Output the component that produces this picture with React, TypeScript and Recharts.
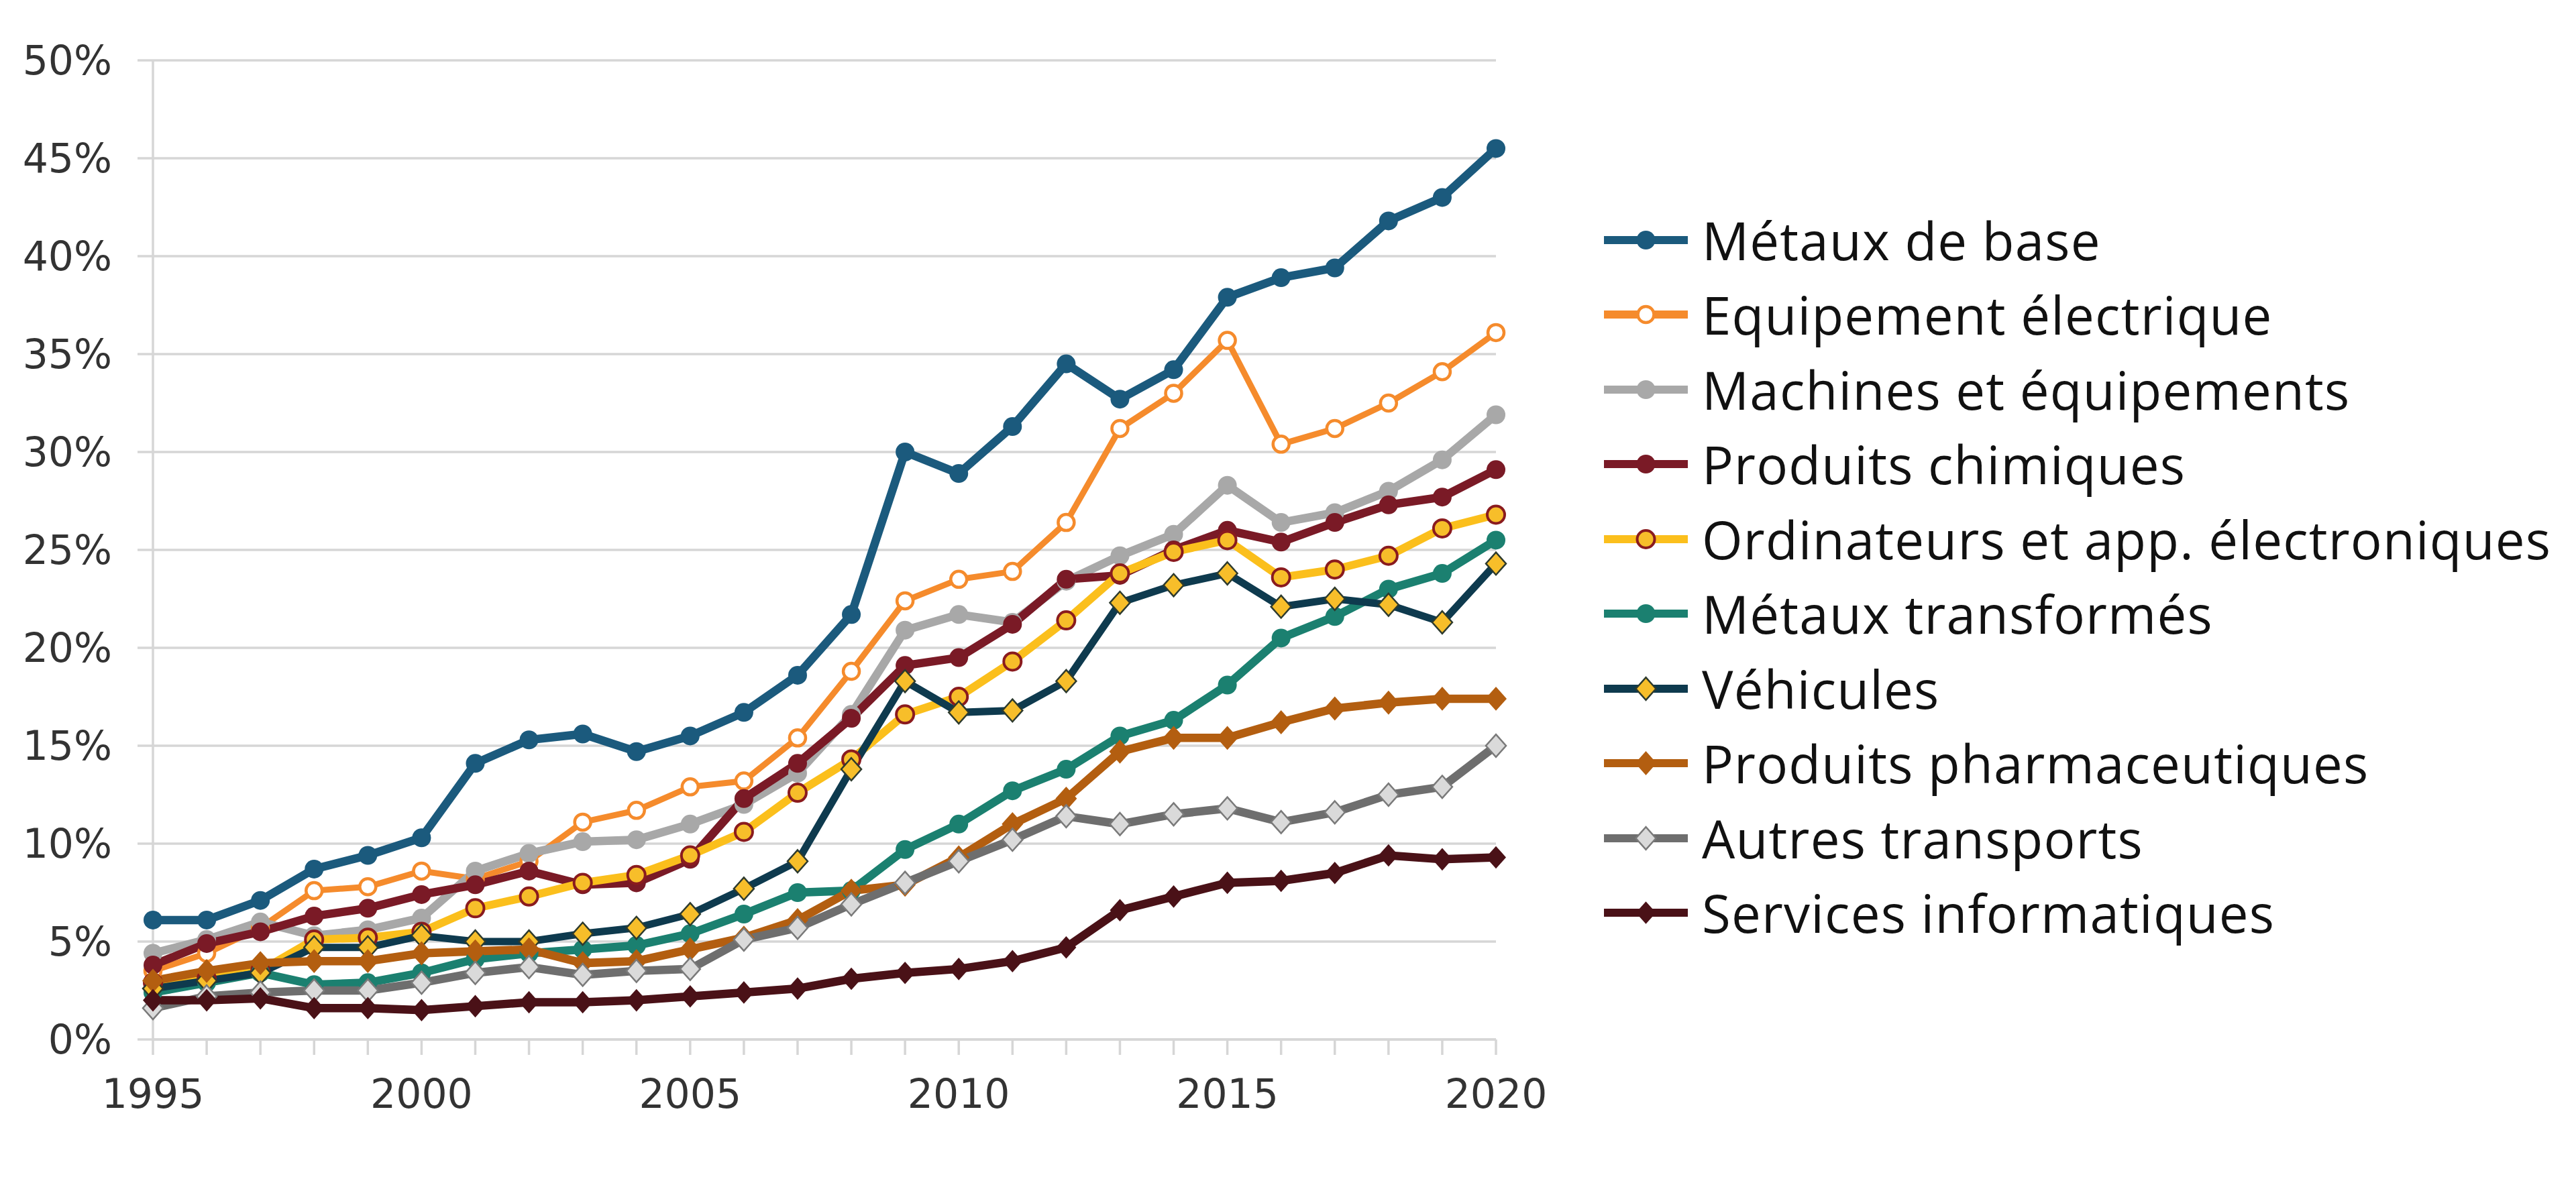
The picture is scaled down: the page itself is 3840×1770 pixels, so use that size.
import React from 'react';
import { LineChart, Line, XAxis, YAxis, CartesianGrid, Legend } from 'recharts';

const years = [1995, 1996, 1997, 1998, 1999, 2000, 2001, 2002, 2003, 2004, 2005, 2006, 2007, 2008, 2009, 2010, 2011, 2012, 2013, 2014, 2015, 2016, 2017, 2018, 2019, 2020];

const metauxBase = [6.1, 6.1, 7.1, 8.7, 9.4, 10.3, 14.1, 15.3, 15.6, 14.7, 15.5, 16.7, 18.6, 21.7, 30.0, 28.9, 31.3, 34.5, 32.7, 34.2, 37.9, 38.9, 39.4, 41.8, 43.0, 45.5];
const equipElec = [3.5, 4.4, 5.7, 7.6, 7.8, 8.6, 8.2, 9.1, 11.1, 11.7, 12.9, 13.2, 15.4, 18.8, 22.4, 23.5, 23.9, 26.4, 31.2, 33.0, 35.7, 30.4, 31.2, 32.5, 34.1, 36.1];
const machines = [4.4, 5.1, 6.0, 5.3, 5.6, 6.2, 8.6, 9.5, 10.1, 10.2, 11.0, 12.0, 13.6, 16.6, 20.9, 21.7, 21.3, 23.4, 24.7, 25.8, 28.3, 26.4, 26.9, 28.0, 29.6, 31.9];
const chimiques = [3.8, 4.9, 5.5, 6.3, 6.7, 7.4, 7.9, 8.6, 7.9, 8.0, 9.2, 12.3, 14.1, 16.4, 19.1, 19.5, 21.2, 23.5, 23.7, 25.0, 26.0, 25.4, 26.4, 27.3, 27.7, 29.1];
const ordinateurs = [2.9, 3.1, 3.5, 5.1, 5.2, 5.5, 6.7, 7.3, 8.0, 8.4, 9.4, 10.6, 12.6, 14.3, 16.6, 17.5, 19.3, 21.4, 23.8, 24.9, 25.5, 23.6, 24.0, 24.7, 26.1, 26.8];
const metauxTransf = [2.4, 2.9, 3.4, 2.8, 2.9, 3.4, 4.1, 4.4, 4.6, 4.8, 5.4, 6.4, 7.5, 7.6, 9.7, 11.0, 12.7, 13.8, 15.5, 16.3, 18.1, 20.5, 21.6, 23.0, 23.8, 25.5];
const vehicules = [2.6, 3.0, 3.4, 4.7, 4.7, 5.3, 5.0, 5.0, 5.4, 5.7, 6.4, 7.7, 9.1, 13.8, 18.3, 16.7, 16.8, 18.3, 22.3, 23.2, 23.8, 22.1, 22.5, 22.2, 21.3, 24.3];
const pharma = [3.0, 3.5, 3.9, 4.0, 4.0, 4.4, 4.5, 4.6, 3.9, 4.0, 4.6, 5.2, 6.1, 7.6, 7.9, 9.3, 11.0, 12.3, 14.7, 15.4, 15.4, 16.2, 16.9, 17.2, 17.4, 17.4];
const autresTransports = [1.6, 2.2, 2.4, 2.5, 2.5, 2.9, 3.4, 3.7, 3.3, 3.5, 3.6, 5.1, 5.7, 6.9, 8.0, 9.1, 10.2, 11.4, 11.0, 11.5, 11.8, 11.1, 11.6, 12.5, 12.9, 15.0];
const servicesInfo = [2.0, 2.0, 2.1, 1.6, 1.6, 1.5, 1.7, 1.9, 1.9, 2.0, 2.2, 2.4, 2.6, 3.1, 3.4, 3.6, 4.0, 4.7, 6.6, 7.3, 8.0, 8.1, 8.5, 9.4, 9.2, 9.3];

const yTicks = [0, 5, 10, 15, 20, 25, 30, 35, 40, 45, 50];

type Marker = 'circle' | 'diamond';
interface Series {
  key: string;
  name: string;
  values: number[];
  color: string;
  width: number;
  marker: Marker;
  fill: string;
  mStroke: string;
  mStrokeW: number;
  size: number;
}

const series: Series[] = [
  { key: 'metauxBase', name: 'Métaux de base', values: metauxBase, color: '#1B5A7D', width: 12.5, marker: 'circle', fill: '#1B5A7D', mStroke: '#1B5A7D', mStrokeW: 0, size: 14 },
  { key: 'equipElec', name: 'Equipement électrique', values: equipElec, color: '#F58B2C', width: 9, marker: 'circle', fill: '#FFFFFF', mStroke: '#F58B2C', mStrokeW: 4.5, size: 12 },
  { key: 'machines', name: 'Machines et équipements', values: machines, color: '#A8A8A8', width: 12.5, marker: 'circle', fill: '#A8A8A8', mStroke: '#A8A8A8', mStrokeW: 0, size: 14 },
  { key: 'chimiques', name: 'Produits chimiques', values: chimiques, color: '#7A1A26', width: 12.5, marker: 'circle', fill: '#7A1A26', mStroke: '#7A1A26', mStrokeW: 0, size: 14 },
  { key: 'ordinateurs', name: 'Ordinateurs et app. électroniques', values: ordinateurs, color: '#FBBF1C', width: 12, marker: 'circle', fill: '#F7BE2A', mStroke: '#8A1B1E', mStrokeW: 4, size: 13 },
  { key: 'metauxTransf', name: 'Métaux transformés', values: metauxTransf, color: '#1B8070', width: 12.5, marker: 'circle', fill: '#1B8070', mStroke: '#1B8070', mStrokeW: 0, size: 14 },
  { key: 'vehicules', name: 'Véhicules', values: vehicules, color: '#0E3A4E', width: 11, marker: 'diamond', fill: '#F7BE2A', mStroke: '#2E3B2E', mStrokeW: 2.5, size: 15 },
  { key: 'pharma', name: 'Produits pharmaceutiques', values: pharma, color: '#B35E10', width: 12.5, marker: 'diamond', fill: '#B35E10', mStroke: '#B35E10', mStrokeW: 0, size: 16 },
  { key: 'autresTransports', name: 'Autres transports', values: autresTransports, color: '#6E6E6E', width: 12.5, marker: 'diamond', fill: '#DADADA', mStroke: '#7A7A7A', mStrokeW: 2.5, size: 15 },
  { key: 'servicesInfo', name: 'Services informatiques', values: servicesInfo, color: '#4A1117', width: 12.5, marker: 'diamond', fill: '#4A1117', mStroke: '#4A1117', mStrokeW: 0, size: 15 },
];

const data = years.map((year, i) => {
  const row: Record<string, number> = { year };
  series.forEach((s) => {
    row[s.key] = s.values[i];
  });
  return row;
});

function MarkerShape({ cx, cy, s }: { cx: number; cy: number; s: Series }) {
  if (cx == null || cy == null) return null;
  if (s.marker === 'circle') {
    return <circle cx={cx} cy={cy} r={s.size} fill={s.fill} stroke={s.mStroke} strokeWidth={s.mStrokeW} />;
  }
  const w = s.size;
  const h = s.size * 1.12;
  return (
    <path
      d={`M${cx},${cy - h}L${cx + w},${cy}L${cx},${cy + h}L${cx - w},${cy}Z`}
      fill={s.fill}
      stroke={s.mStroke}
      strokeWidth={s.mStrokeW}
    />
  );
}

const renderLegend = (props: any) => {
  const items: any[] = props.payload || [];
  const present = new Set(items.map((it) => it.value));
  return (
    <div style={{ fontFamily: '"Open Sans", sans-serif', fontSize: 78, color: '#111', letterSpacing: 1.2 }}>
      {series
        .filter((s) => present.size === 0 || present.has(s.name))
        .map((s) => (
          <div key={s.key} style={{ display: 'flex', alignItems: 'center', height: 111.5 }}>
            <svg width={125} height={44} style={{ flex: 'none', overflow: 'visible' }}>
              <line x1={0} y1={22} x2={125} y2={22} stroke={s.color} strokeWidth={12} />
              <MarkerShape cx={62.5} cy={22} s={s} />
            </svg>
            <span style={{ marginLeft: 21, whiteSpace: 'nowrap', lineHeight: 1 }}>{s.name}</span>
          </div>
        ))}
    </div>
  );
};

const tickStyle = { fontFamily: '"DejaVu Sans", sans-serif', fontSize: 60, fill: '#333333' };

export default function App() {
  return (
    <div style={{ position: 'absolute', left: 0, top: 0, width: 3840, height: 1770, background: '#ffffff' }}>
      <LineChart width={3840} height={1770} data={data} margin={{ top: 90, right: 1610, left: 5, bottom: 100 }}>
        <CartesianGrid horizontal={true} vertical={false} stroke="#D6D6D6" strokeWidth={3.5} />
        <XAxis
          dataKey="year"
          type="number"
          domain={[1995, 2020]}
          ticks={years}
          interval={0}
          height={120}
          tickFormatter={(v: number) => (v % 5 === 0 ? String(v) : '')}
          axisLine={{ stroke: '#D6D6D6', strokeWidth: 3.5 }}
          tickLine={{ stroke: '#D6D6D6', strokeWidth: 3.5 }}
          tickSize={23}
          tickMargin={36}
          tick={tickStyle}
        />
        <YAxis
          type="number"
          domain={[0, 50]}
          ticks={yTicks}
          interval={0}
          width={223}
          tickFormatter={(v: number) => `${v}%`}
          axisLine={{ stroke: '#D6D6D6', strokeWidth: 3.5 }}
          tickLine={{ stroke: '#D6D6D6', strokeWidth: 3.5 }}
          tickSize={23}
          tickMargin={38}
          tick={tickStyle}
        />
        {series.map((s) => (
          <Line
            key={s.key}
            type="linear"
            dataKey={s.key}
            name={s.name}
            stroke={s.color}
            strokeWidth={s.width}
            isAnimationActive={false}
            dot={(p: any) => <MarkerShape key={`${s.key}-${p.index}`} cx={p.cx} cy={p.cy} s={s} />}
            activeDot={false}
          />
        ))}
        <Legend
          layout="vertical"
          align="center"
          verticalAlign="middle"
          itemSorter={null as any}
          content={renderLegend}
          wrapperStyle={{ left: 2391, top: 302, width: 1440, height: 'auto' }}
        />
      </LineChart>
    </div>
  );
}
